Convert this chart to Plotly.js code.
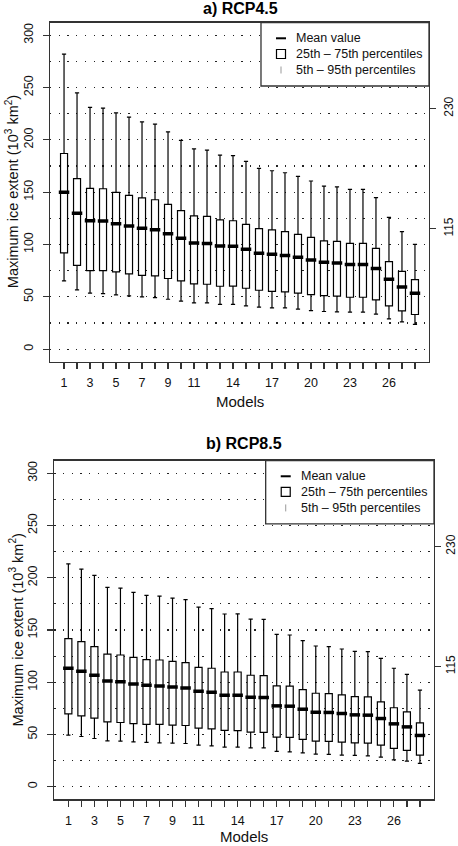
<!DOCTYPE html>
<html>
<head>
<meta charset="utf-8">
<script src="https://cdn.plot.ly/plotly-3.0.1.min.js"></script>
<style>html,body{margin:0;padding:0;background:#fff;}#chart{width:458px;height:846px;}</style>
</head>
<body>
<div id="chart"></div>
<script>
// ---- data ----
var models = [1,2,3,4,5,6,7,8,9,10,11,12,13,14,15,16,17,18,19,20,21,22,23,24,25,26,27,28];
var modelLabels = ['1','','3','','5','','7','','9','','11','','','14','','','17','','','20','','','23','','','26','',''];
var yTicksLeft = [0,50,100,150,200,250,300];
var yTicksRight = [115,230];

// RCP4.5
var rcp45_p95  = [282,245,231,230.3,225.9,221.7,217.3,215,207.7,199.5,191.5,190.3,185.5,185,179.4,172.7,170.5,168.6,165.1,160.7,155.9,155,152.7,152.7,144.8,126,112.3,100.2];
var rcp45_q3   = [187,163,153.6,153.3,149.8,147,144.5,142.8,138.4,132.3,127.3,126.9,123.5,122.7,119.3,115.2,113.9,112.3,109.7,106.9,103.4,103,101.1,101.1,96.4,83.7,74.4,66.5];
var rcp45_mean = [150,130,122.8,122.5,119.9,117.7,115.5,114.2,110.4,105.9,101.5,100.9,98.7,98.3,95.4,91.6,90.7,89.4,87.8,85.3,83,82.4,80.8,80.8,77,66.8,59.5,53.5];
var rcp45_q1   = [92,80,75.1,75.1,73.8,71.9,70.6,70,67.5,65.3,62.4,62,60.1,60.3,58.2,56.3,55.3,54.8,53.5,52.2,51.2,50.6,49.6,49.6,47.1,41.4,36.6,33.1];
var rcp45_p5   = [65.3,56.7,53.5,53.1,51.9,50.9,50,49.3,47.7,45.8,44.3,44.3,42.7,42.8,41.4,40.1,39.5,39.5,38.2,36.9,36,35.7,35.3,35.3,33.4,29,26.1,23.6];

// RCP8.5
var rcp85_p95  = [213.3,208.3,202.2,190.7,190,186,183.1,182.4,180.5,179,171.9,170.4,165.3,165.5,160.5,160.2,145.8,145.2,139.8,134.7,134.1,131.8,129.6,129.3,122.9,113.4,107.6,92.4];
var rcp85_q3   = [141.7,138.9,134.1,127,126.1,123.9,121.7,121.3,120,118.8,114.3,113.4,109.8,109.8,106.7,106.4,96.5,96.2,93,89.5,89.2,87.9,86.3,86,81.2,75.6,71.6,61.1];
var rcp85_mean = [113.4,110.5,106.7,101.2,100.6,98.4,97.1,96.5,95.5,94.6,91.4,90.4,87.6,87.6,85.7,85.4,77.4,77.1,74.2,71.3,71.1,70.1,68.8,68.5,65.3,60.2,57.3,49.1];
var rcp85_q1   = [69.7,67.8,65.6,62.1,61.5,60.5,59.6,59.6,58.9,58.6,56.1,55.4,53.9,53.7,52.2,52,47.5,47.2,45.3,43.6,43.4,42.7,42,41.7,39.8,36.7,34.8,30.3];
var rcp85_p5   = [49.4,48.1,46.2,43.9,43.6,43,42.4,42,41.7,41.4,39.8,39.2,37.9,38,37.2,37.2,33.8,33.4,32.5,31.2,30.9,30.3,30,29.6,28.4,25.8,24.5,22.3];

var legendTexts = ['Mean value', '25th \u2013 75th percentiles', '5th \u2013 95th percentiles'];
var panelTitles = ['a) RCP4.5', 'b) RCP8.5'];
var yTitle = 'Maximum ice extent (10<sup>3</sup> km<sup>2</sup>)';
var xTitle = 'Models';

// labeled vs unlabeled model ticks (derived from the arrays above)
var labeledVals = [], labeledText = [], unlabeledVals = [];
models.forEach(function(m, i){
  if (modelLabels[i] !== '') { labeledVals.push(m); labeledText.push(modelLabels[i]); }
  else { unlabeledVals.push(m); }
});

// ---- styling ----
var FONT = 'Liberation Sans, Arial, Helvetica, sans-serif';
var W = 458, H = 846;
function px(x){ return x / W; }
function py(y){ return 1 - y / H; }
var frameColor = '#333';
var gridDash = '1.3px,7.4px';

function boxTrace(xa, ya, q1, med, q3, lo, hi){
  return {
    type: 'box', x: models, q1: q1, median: med, q3: q3,
    lowerfence: lo, upperfence: hi,
    xaxis: xa, yaxis: ya,
    width: 0.54, whiskerwidth: 0.6,
    fillcolor: '#ffffff',
    line: {color: '#000', width: 1.2},
    boxpoints: false, showlegend: false, hoverinfo: 'skip'
  };
}
function meanTrace(xa, ya, m){
  return {
    type: 'scatter', mode: 'markers', x: models, y: m,
    xaxis: xa, yaxis: ya,
    marker: {symbol: 'line-ew', size: 7.5, color: '#000', line: {color: '#000', width: 3.5}},
    showlegend: false, hoverinfo: 'skip'
  };
}
function axisHolder(xa, ya){
  return {type: 'scatter', mode: 'markers', x: [], y: [], xaxis: xa, yaxis: ya, showlegend: false, hoverinfo: 'skip'};
}

var data = [
  boxTrace('x', 'y', rcp45_q1, rcp45_mean, rcp45_q3, rcp45_p5, rcp45_p95),
  meanTrace('x', 'y', rcp45_mean),
  axisHolder('x', 'y3'),
  boxTrace('x2', 'y2', rcp85_q1, rcp85_mean, rcp85_q3, rcp85_p5, rcp85_p95),
  meanTrace('x2', 'y2', rcp85_mean),
  axisHolder('x2', 'y4')
];

function xAxis(domain, anchor){
  return {
    domain: domain, anchor: anchor, range: [-0.08, 29.08],
    tickmode: 'array', tickvals: labeledVals, ticktext: labeledText,
    ticks: 'outside', ticklen: 6, tickwidth: 1.2, tickcolor: frameColor,
    ticklabelstandoff: 3,
    minor: {tickmode: 'array', tickvals: unlabeledVals, ticks: 'outside', ticklen: 6, tickwidth: 1.2, tickcolor: frameColor, showgrid: false},
    showline: true, mirror: true, linecolor: frameColor, linewidth: 1.3,
    showgrid: false, zeroline: false,
    tickfont: {family: FONT, size: 12.5, color: '#111'}
  };
}
function yAxis(domain, anchor){
  return {
    domain: domain, anchor: anchor, range: [-12, 312],
    tickmode: 'array', tickvals: yTicksLeft,
    ticks: 'outside', ticklen: 6, tickwidth: 1.2, tickcolor: frameColor,
    tickangle: -90, ticklabelstandoff: 5,
    showline: true, mirror: true, linecolor: frameColor, linewidth: 1.3,
    showgrid: true, gridcolor: '#222', gridwidth: 1.2, griddash: gridDash,
    minor: {tickmode: 'linear', tick0: 0, dtick: 25, showgrid: true, gridcolor: '#222', gridwidth: 1.2, griddash: gridDash, ticks: ''},
    zeroline: false,
    tickfont: {family: FONT, size: 12.5, color: '#111'}
  };
}
function yRight(overlay, anchor, standoff){
  return {
    overlaying: overlay, anchor: anchor, side: 'right', range: [-12, 312],
    tickmode: 'array', tickvals: yTicksRight,
    ticks: 'outside', ticklen: 6, tickwidth: 1.2, tickcolor: frameColor,
    tickangle: -90, ticklabelstandoff: standoff,
    showline: false, showgrid: false, zeroline: false,
    tickfont: {family: FONT, size: 12, color: '#111'}
  };
}

var topX = [px(50), px(429)], topY = [py(361.7), py(22.7)];
var botX = [px(54.3), px(434)], botY = [py(799.3), py(460.7)];

var shapes = [], annotations = [];
function addLegend(xr, yr){
  var lx = 0.5567, ly = 0.8133, sx = 0.6095, tx = 0.6446;
  var iy = [0.954, 0.9077, 0.8605];
  shapes.push({type: 'rect', xref: xr + ' domain', yref: yr + ' domain', x0: lx, x1: 1, y0: ly, y1: 1,
    fillcolor: '#fff', line: {color: frameColor, width: 1.3}, layer: 'above'});
  shapes.push({type: 'line', xref: xr + ' domain', yref: yr + ' domain', xsizemode: 'pixel', xanchor: sx,
    x0: -5, x1: 5, y0: iy[0], y1: iy[0], line: {color: '#000', width: 2}, layer: 'above'});
  shapes.push({type: 'rect', xref: xr + ' domain', yref: yr + ' domain', xsizemode: 'pixel', ysizemode: 'pixel',
    xanchor: sx, yanchor: iy[1], x0: -4.5, x1: 4.5, y0: -4.5, y1: 4.5,
    fillcolor: '#fff', line: {color: '#000', width: 1.2}, layer: 'above'});
  shapes.push({type: 'line', xref: xr + ' domain', yref: yr + ' domain', ysizemode: 'pixel', yanchor: iy[2],
    x0: sx, x1: sx, y0: -3.5, y1: 3.5, line: {color: '#999', width: 1}, layer: 'above'});
  for (var i = 0; i < 3; i++){
    annotations.push({xref: xr + ' domain', yref: yr + ' domain', x: tx, y: iy[i], xanchor: 'left', yanchor: 'middle',
      text: legendTexts[i], showarrow: false, font: {family: FONT, size: 12.5, color: '#111'}});
  }
}
addLegend('x', 'y');
addLegend('x2', 'y2');

annotations.push({xref: 'paper', yref: 'paper', x: px(240), y: py(8), xanchor: 'center', yanchor: 'middle',
  text: '<b>' + panelTitles[0] + '</b>', showarrow: false, font: {family: FONT, size: 16, color: '#000'}});
annotations.push({xref: 'paper', yref: 'paper', x: px(243.5), y: py(443.5), xanchor: 'center', yanchor: 'middle',
  text: '<b>' + panelTitles[1] + '</b>', showarrow: false, font: {family: FONT, size: 16, color: '#000'}});
annotations.push({xref: 'paper', yref: 'paper', x: px(240), y: py(401), xanchor: 'center', yanchor: 'middle',
  text: xTitle, showarrow: false, font: {family: FONT, size: 15, color: '#111'}});
annotations.push({xref: 'paper', yref: 'paper', x: px(244), y: py(836.5), xanchor: 'center', yanchor: 'middle',
  text: xTitle, showarrow: false, font: {family: FONT, size: 15, color: '#111'}});
annotations.push({xref: 'paper', yref: 'paper', x: px(12), y: py(192.2), xanchor: 'center', yanchor: 'middle',
  textangle: -90, text: yTitle, showarrow: false, font: {family: FONT, size: 14.5, color: '#111'}});
annotations.push({xref: 'paper', yref: 'paper', x: px(16.5), y: py(630), xanchor: 'center', yanchor: 'middle',
  textangle: -90, text: yTitle, showarrow: false, font: {family: FONT, size: 14.5, color: '#111'}});

var layout = {
  width: W, height: H,
  margin: {l: 0, r: 0, t: 0, b: 0},
  paper_bgcolor: '#fff', plot_bgcolor: '#fff',
  showlegend: false,
  font: {family: FONT, color: '#111'},
  xaxis: xAxis(topX, 'y'),
  yaxis: yAxis(topY, 'x'),
  yaxis3: yRight('y', 'x', 3),
  xaxis2: xAxis(botX, 'y2'),
  yaxis2: yAxis(botY, 'x2'),
  yaxis4: yRight('y2', 'x2', 0),
  shapes: shapes,
  annotations: annotations
};

Plotly.newPlot('chart', data, layout, {staticPlot: true, displayModeBar: false});
</script>
</body>
</html>
